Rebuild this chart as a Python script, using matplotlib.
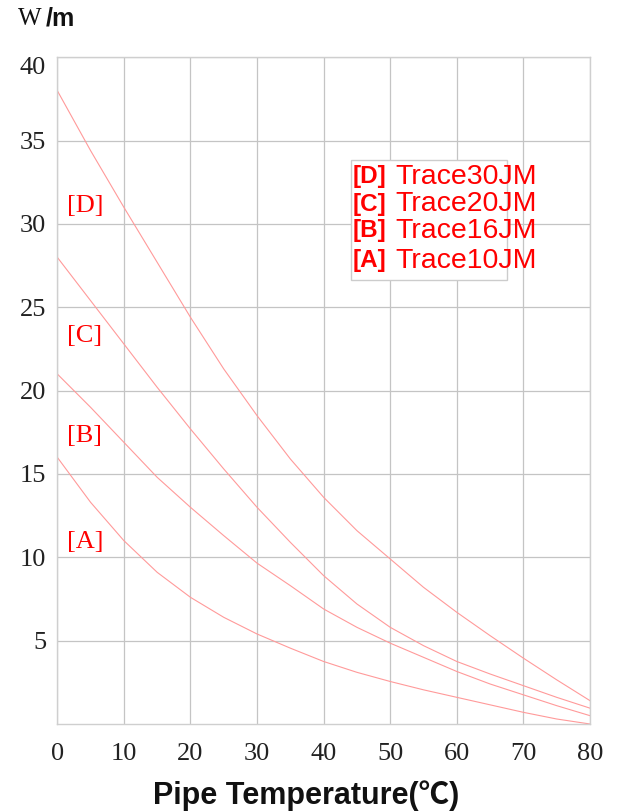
import matplotlib.pyplot as plt
from matplotlib.patches import Rectangle
from matplotlib.transforms import ScaledTranslation

# pipe temperature (deg C) and output (W/m)
temp = [0, 5, 10, 15, 20, 25, 30, 35, 40, 45, 50, 55, 60, 65, 70, 75, 80]
trace30 = [38.0, 34.4, 31.0, 27.7, 24.4, 21.3, 18.5, 15.9, 13.6, 11.6, 9.9, 8.2, 6.7, 5.3, 3.95, 2.65, 1.4]
trace20 = [28.0, 25.4, 22.8, 20.2, 17.7, 15.3, 13.0, 10.9, 8.9, 7.2, 5.8, 4.7, 3.75, 3.0, 2.3, 1.6, 0.95]
trace16 = [21.0, 19.0, 16.9, 14.8, 13.0, 11.3, 9.65, 8.3, 6.9, 5.8, 4.85, 4.0, 3.15, 2.4, 1.75, 1.1, 0.5]
trace10 = [16.0, 13.3, 11.0, 9.1, 7.6, 6.4, 5.4, 4.55, 3.75, 3.1, 2.55, 2.05, 1.6, 1.15, 0.7, 0.3, 0.0]

codes = ["[D]", "[C]", "[B]", "[A]"]
names = ["Trace30JM", "Trace20JM", "Trace16JM", "Trace10JM"]
code_y = [31.1, 23.3, 17.3, 10.9]
xticks = [0, 10, 20, 30, 40, 50, 60, 70, 80]
yticks = [5, 10, 15, 20, 25, 30, 35, 40]

W, H = 617, 811
fig = plt.figure(figsize=(W / 100, H / 100), dpi=100)
ax = fig.add_axes([57.3 / W, 1 - 724 / H, (590 - 57.3) / W, (724 - 57.3) / H])

line_kw = dict(color="#ff9a9a", lw=0.8)
for series in [trace30, trace20, trace16, trace10]:
    ax.plot(temp, series, **line_kw)

ax.set_xlim(0, 80)
ax.set_ylim(0, 40)
ax.set_xticks(xticks)
ax.set_yticks(yticks)
ax.grid(True, color="#c4c4c4", lw=0.9)
ax.set_axisbelow(True)
for sp in ax.spines.values():
    sp.set_color("#cfcfcf")
    sp.set_linewidth(1.0)
ax.tick_params(length=0, labelsize=19, labelcolor="#222222")
ax.tick_params(axis="x", pad=14)
ax.tick_params(axis="y", pad=8)
for lab in ax.get_xticklabels() + ax.get_yticklabels():
    lab.set_fontfamily("Liberation Serif")
# top label sits a bit lower in the original
top = ax.get_yticklabels()[-1]
top.set_transform(top.get_transform() + ScaledTranslation(0, -0.08, fig.dpi_scale_trans))

for c, y in zip(codes, code_y):
    ax.text(1.4, y, c, color="red", fontsize=19, family="Liberation Serif",
            ha="left", va="center")

# legend box
fig.patches.append(Rectangle((350.5 / W, 1 - 280 / H), 156 / W, 120 / H,
                             transform=fig.transFigure, facecolor="white",
                             edgecolor="#cccccc", lw=1.0, zorder=3))
leg_y = [177, 204, 231, 261]
for c, n, y in zip(codes, names, leg_y):
    fig.text(353 / W, 1 - y / H, c, color="red", fontsize=17.5, fontweight="bold",
             family="Liberation Sans", va="center", ha="left", zorder=4)
    fig.text(395 / W, 1 - y / H, n, color="red", fontsize=20.5,
             family="Liberation Sans", va="center", ha="left", zorder=4)

# axis titles
fig.text(18 / W, 1 - 19 / H, "W", fontsize=18, family="Liberation Serif",
         va="center", ha="left", color="#111111")
fig.text(46 / W, 1 - 19 / H, "/m", fontsize=18, fontweight="bold",
         family="Liberation Sans", va="center", ha="left", color="#111111")
fig.text(306 / W, 1 - 796 / H, "Pipe Temperature(℃)", fontsize=22, fontweight="bold",
         family=["Liberation Sans", "Noto Sans CJK SC"], va="center", ha="center",
         color="#111111")

fig.savefig("out.png", dpi=100)
